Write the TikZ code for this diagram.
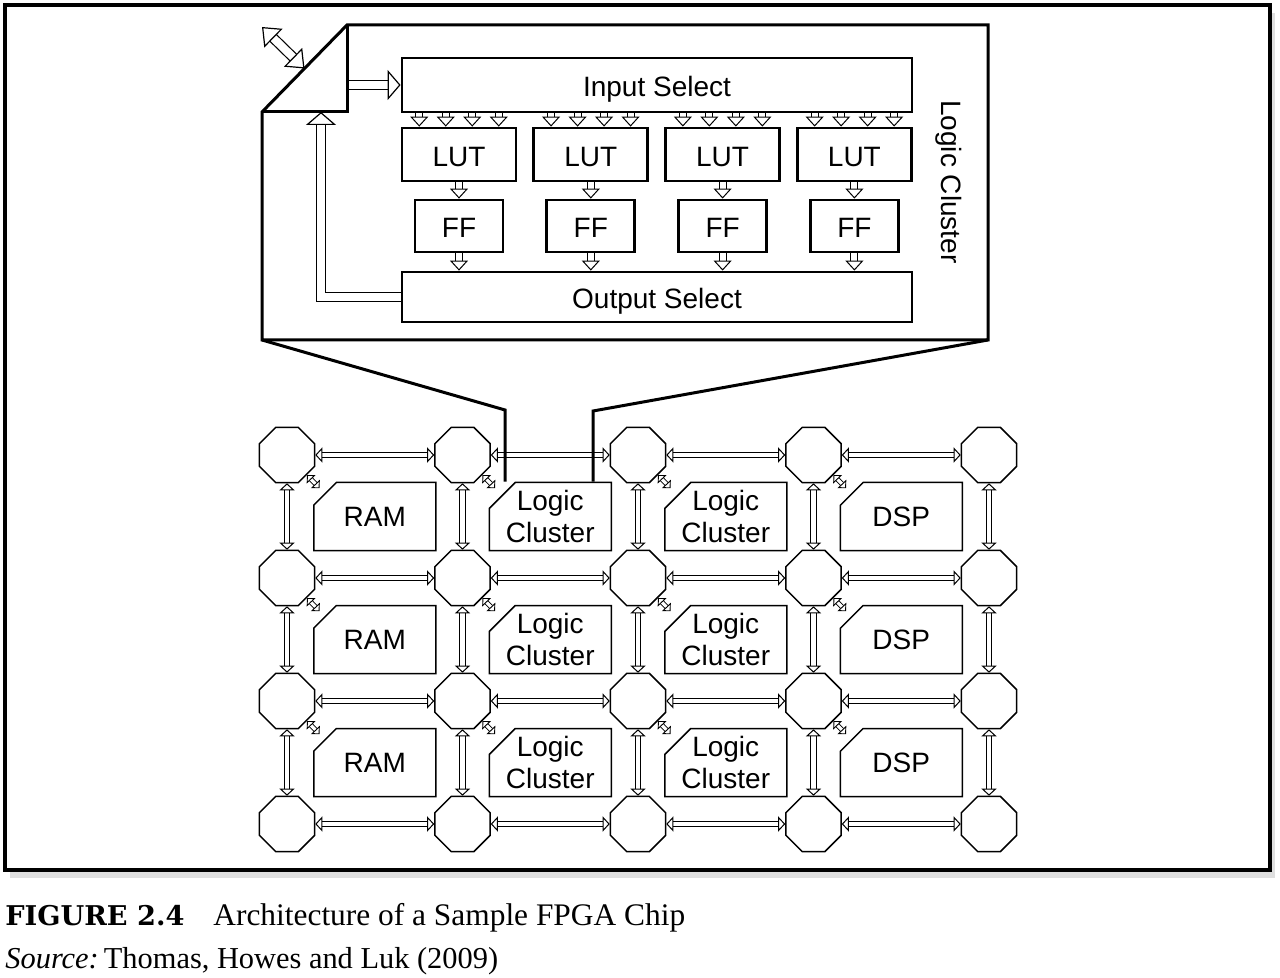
\documentclass[tikz,border=0pt]{standalone}
\usepackage{fontspec}
\setmainfont{Liberation Serif}
\setsansfont{Liberation Sans}
\newfontfamily\slabfont{DejaVu Serif}
\usetikzlibrary{positioning,calc,shapes.geometric,shapes.misc,arrows.meta,shadows}
\tikzset{
  every node/.style={font=\sffamily\fontsize{14}{16}\selectfont},
  part/.style={draw, line width=1.4pt, inner sep=0pt, text height=12pt, text depth=0pt},
  lut/.style={part, minimum width=57pt, minimum height=26.5pt},
  ff/.style={part, minimum width=44pt, minimum height=26pt},
  select/.style={part, minimum width=255pt, minimum height=26pt},
  router/.style={draw, line width=0.75pt, regular polygon, regular polygon sides=8,
    minimum size=29.8pt, inner sep=0pt},
  block/.style={draw, line width=0.75pt, chamfered rectangle,
    chamfered rectangle corners=north west, chamfered rectangle xsep=6.5pt,
    chamfered rectangle ysep=6.5pt, minimum width=61pt, minimum height=34pt,
    inner sep=0pt, align=center},
  twoline/.style={inner ysep=-3pt},
  SmallTip/.tip={Triangle[length=5pt, width=9pt, fill=white, line width=0.5pt]},
  WireTip/.tip={Triangle[length=3.5pt, width=7.5pt, fill=white, line width=0.5pt]},
  LinkTip/.tip={Triangle[length=3pt, width=6pt, fill=white, line width=0.45pt]},
  BigTip/.tip={Triangle[length=6.5pt, width=15pt, fill=white, line width=0.6pt]},
  PortTip/.tip={Triangle[length=8pt, width=13pt, fill=white, line width=0.6pt]},
  feed/.style={double, double distance=3pt, line width=0.5pt, -SmallTip},
  wire/.style={double, double distance=2.2pt, line width=0.5pt, WireTip-WireTip},
  link/.style={double, double distance=1.6pt, line width=0.45pt, LinkTip-LinkTip},
  bigfeed/.style={double, double distance=4pt, line width=0.6pt, -BigTip},
  port/.style={double, double distance=4pt, line width=0.6pt, PortTip-PortTip},
  outline/.style={line width=1.5pt, line join=miter}
}

\begin{document}
\begin{tikzpicture}[x=0.5pt, y=-0.5pt]
  \useasboundingbox (0,0) rectangle (1280,978);
  \draw[line width=1.75pt, fill=white,
    drop shadow={shadow xshift=2.5pt, shadow yshift=-4pt, opacity=0.25}] (5,5) rectangle (1270,870);

  % routing grid
  \foreach \r in {1,...,4}
    \foreach \c in {1,...,5}
      \node[router] (Router\r\c) at ({287+175.5*(\c-1)}, {455+123*(\r-1)}) {};
  \foreach \r in {1,2,3}
    \foreach \c/\kind/\fix in {1/RAM/, 2/{Logic\\Cluster}/twoline, 3/{Logic\\Cluster}/twoline, 4/DSP/}
      \node[block, \fix] (Block\r\c) at ({374.75+175.5*(\c-1)}, {516.5+123*(\r-1)}) {\kind};

  \foreach \r in {1,...,4}
    \foreach \c [count=\n from 2] in {1,...,4}
      \draw[wire] (Router\r\c.east) -- (Router\r\n.west);
  \foreach \r [count=\n from 2] in {1,2,3}
    \foreach \c in {1,...,5}
      \draw[wire] (Router\r\c.south) -- (Router\n\c.north);
  \foreach \r in {1,2,3}
    \foreach \c in {1,...,4}
      \draw[link] (Router\r\c.-45) -- ($(Block\r\c.west |- Block\r\c.north)+(3.25pt,-3.25pt)$);

  % zoomed logic cluster
  \node[select, minimum height=27pt] (InSel) at (657,85) {Input Select};
  \node[lut, below right=6.6pt and 0pt of InSel.south west] (Lut1) {LUT};
  \node[lut, right=7.5pt of Lut1] (Lut2) {LUT};
  \node[lut, right=7.5pt of Lut2] (Lut3) {LUT};
  \node[lut, right=7.5pt of Lut3] (Lut4) {LUT};
  \node[ff, below=8.1pt of Lut1] (FF1) {FF};
  \node[ff, below=8.1pt of Lut2] (FF2) {FF};
  \node[ff, below=8.1pt of Lut3] (FF3) {FF};
  \node[ff, below=8.1pt of Lut4] (FF4) {FF};
  \node[select, minimum height=25pt] (OutSel) at (657,297) {Output Select};
  \node[rotate=-90] (ClusterName) at (949,182) {Logic Cluster};

  \foreach \k in {1,...,4} {
    \foreach \d in {-39.75,-13.25,13.25,39.75}
      \draw[feed] ($(Lut\k.north |- InSel.south)+(\d,0)$) -- ($(Lut\k.north)+(\d,0)$);
    \draw[feed] (Lut\k.south) -- (Lut\k.south |- FF\k.north);
    \draw[feed] (FF\k.south) -- (FF\k.south |- OutSel.north);
  }

  \coordinate (FoldTop) at (347,25);
  \coordinate (FoldLeft) at (262,112);
  \coordinate (FoldIn) at (347,112);
  \coordinate (Back) at (321,112);
  \coordinate (PortEnd) at (262,27);
  \coordinate (CornerSW) at (262,340);
  \coordinate (CornerSE) at (988,340);
  \draw[bigfeed] (FoldTop |- InSel.west) -- (InSel.west);
  \draw[bigfeed] (OutSel.west) -| (Back);
  \draw[port] ($(FoldTop)!0.5!(FoldLeft)$) -- (PortEnd);
  \draw[outline] (FoldTop) -- (988,25) -- (CornerSE) -- (CornerSW) -- (FoldLeft) -- cycle;
  \draw[outline] (FoldTop) -- (FoldIn) -- (FoldLeft);

  % zoom lines down to the cluster
  \coordinate (ZoomL) at ([xshift=-22.6pt]Block12.north);
  \coordinate (ZoomR) at ([xshift=21.4pt]Block12.north);
  \draw[outline] (CornerSW) -- (ZoomL |- 0,410) -- (ZoomL);
  \draw[outline] (CornerSE) -- (ZoomR |- 0,411) -- (ZoomR);

  % caption
  \node[anchor=base west, inner sep=0pt, font=\slabfont\bfseries\fontsize{13.6}{16}\selectfont]
    (FigNo) at (5,925) {FIGURE 2.4};
  \node[anchor=base west, inner sep=0pt, font=\rmfamily\fontsize{15.7}{18}\selectfont]
    (FigTitle) at (213,925) {Architecture of a Sample FPGA Chip};
  \node[anchor=base west, inner sep=0pt, font=\rmfamily\fontsize{15.2}{18}\selectfont]
    (FigSource) at (5,968) {\textit{Source:}\,Thomas, Howes and Luk (2009)};
\end{tikzpicture}
\end{document}
